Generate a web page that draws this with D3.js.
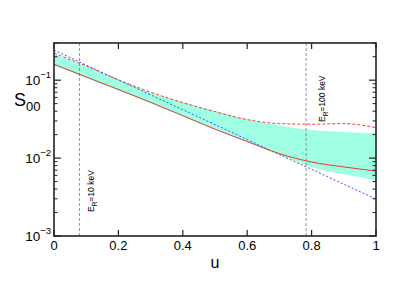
<!DOCTYPE html>
<html>
<head>
<meta charset="utf-8">
<script src="https://cdn.jsdelivr.net/npm/d3@7"></script>
<style>
  body { margin: 0; background: #fff; }
  svg { display: block; font-family: 'Liberation Sans', Arial, sans-serif; }
</style>
</head>
<body>
<div class="chart"></div>
<script>
// u grid shared by every curve
var uValues = [0, 0.1, 0.2, 0.3, 0.4, 0.5, 0.6, 0.7, 0.8, 0.9, 1.0];

// shaded band (upper / lower edge)
var bandUpper = [0.215, 0.151, 0.101, 0.069, 0.0525, 0.0402, 0.0312, 0.0262, 0.0229, 0.0216, 0.0209];
var bandLower = [0.156, 0.107, 0.0735, 0.0505, 0.0345, 0.0232, 0.0160, 0.0110, 0.0077, 0.0062, 0.0052];

// curves
var redSolid = [0.160, 0.110, 0.076, 0.052, 0.035, 0.0235, 0.0163, 0.0114, 0.0089, 0.0077, 0.0068];
var redDashed = [0.222, 0.152, 0.101, 0.0702, 0.0515, 0.0395, 0.0312, 0.0277, 0.0272, 0.0277, 0.0246];
var blueDashed = [0.243, 0.156, 0.1006, 0.0648, 0.0418, 0.0269, 0.0173, 0.0111, 0.00718, 0.00462, 0.00298];

// recoil energy markers
var markerU = [0.079, 0.783];
var markerLabels = ['10 keV', '100 keV'];

var xTicks = [0, 0.2, 0.4, 0.6, 0.8, 1];
var xTickLabels = ['0', '0.2', '0.4', '0.6', '0.8', '1'];
var yDecades = [-3, -2, -1];

var width = 415;
var height = 290;
var margin = { left: 54, right: 39, top: 43, bottom: 54 };

var svg = d3.select('.chart')
  .append('svg')
  .attr('width', width)
  .attr('height', height);

var x = d3.scaleLinear()
  .domain([0, 1])
  .range([margin.left, width - margin.right]);

var y = d3.scaleLog()
  .domain([1e-3, 0.3])
  .range([height - margin.bottom, margin.top]);

function pairs(values) {
  return uValues.map(function(u, i) { return [u, values[i]]; });
}

var line = d3.line()
  .x(function(d) { return x(d[0]); })
  .y(function(d) { return y(d[1]); })
  .curve(d3.curveMonotoneX);

var area = d3.area()
  .x(function(d) { return x(d.u); })
  .y0(function(d) { return y(d.lo); })
  .y1(function(d) { return y(d.hi); })
  .curve(d3.curveMonotoneX);

var bandData = uValues.map(function(u, i) {
  return { u: u, lo: bandLower[i], hi: bandUpper[i] };
});

svg.append('path')
  .datum(bandData)
  .attr('d', area)
  .style('fill', '#9fffe2');

// dashed vertical markers
svg.selectAll('.marker')
  .data(markerU)
  .enter()
  .append('line')
  .attr('class', 'marker')
  .attr('x1', function(d) { return x(d); })
  .attr('x2', function(d) { return x(d); })
  .attr('y1', y.range()[0])
  .attr('y2', y.range()[1])
  .style('stroke', '#777')
  .style('stroke-width', 0.8)
  .style('stroke-dasharray', '3,2');

var curves = [
  { values: redDashed, color: '#ff3838', dash: '3,2' },
  { values: blueDashed, color: '#3858ff', dash: '2,2' },
  { values: redSolid, color: '#e83a30', dash: null }
];

svg.selectAll('.curve')
  .data(curves)
  .enter()
  .append('path')
  .attr('class', 'curve')
  .attr('d', function(d) { return line(pairs(d.values)); })
  .style('fill', 'none')
  .style('stroke', function(d) { return d.color; })
  .style('stroke-width', 1)
  .style('stroke-dasharray', function(d) { return d.dash; });

// marker labels, rotated
var labelX = [94, 325];
var labelY = [212, 122];
markerLabels.forEach(function(lbl, i) {
  var t = svg.append('text')
    .attr('transform', 'translate(' + labelX[i] + ',' + labelY[i] + ') rotate(-90)')
    .attr('font-size', 8.5)
    .style('fill', '#000');
  t.append('tspan').text('E');
  t.append('tspan').attr('font-size', 6.5).attr('dy', 2.5).text('R');
  t.append('tspan').attr('dy', -2.5).text('=' + lbl);
});

// frame
var x0 = x.range()[0], x1 = x.range()[1];
var yb = y.range()[0], yt = y.range()[1];
svg.append('rect')
  .attr('x', x0)
  .attr('y', yt)
  .attr('width', x1 - x0)
  .attr('height', yb - yt)
  .style('fill', 'none')
  .style('stroke', '#222')
  .style('stroke-width', 1.6);

// x ticks (bottom and top, inward)
var ticks = svg.append('g').style('stroke', '#222').style('stroke-width', 1.2);
xTicks.forEach(function(t) {
  ticks.append('line').attr('x1', x(t)).attr('x2', x(t)).attr('y1', yb).attr('y2', yb - 6);
  ticks.append('line').attr('x1', x(t)).attr('x2', x(t)).attr('y1', yt).attr('y2', yt + 6);
});

// y ticks (left and right, inward)
var minorVals = [];
yDecades.forEach(function(p) {
  for (var m = 2; m <= 9; m++) {
    var v = m * Math.pow(10, p);
    if (v <= y.domain()[1] + 1e-9) minorVals.push(v);
  }
});
yDecades.forEach(function(p) {
  var v = Math.pow(10, p);
  ticks.append('line').attr('x1', x0).attr('x2', x0 + 7).attr('y1', y(v)).attr('y2', y(v));
  ticks.append('line').attr('x1', x1).attr('x2', x1 - 7).attr('y1', y(v)).attr('y2', y(v));
});
minorVals.forEach(function(v) {
  ticks.append('line').attr('x1', x0).attr('x2', x0 + 3.5).attr('y1', y(v)).attr('y2', y(v)).style('stroke-width', 1);
  ticks.append('line').attr('x1', x1).attr('x2', x1 - 3.5).attr('y1', y(v)).attr('y2', y(v)).style('stroke-width', 1);
});

// x tick labels
svg.selectAll('.xlabel')
  .data(xTicks)
  .enter()
  .append('text')
  .attr('class', 'xlabel')
  .attr('x', function(d) { return x(d); })
  .attr('y', yb + 14)
  .attr('text-anchor', 'middle')
  .attr('font-size', 13)
  .text(function(d, i) { return xTickLabels[i]; });

// y tick labels 10^p
yDecades.forEach(function(p) {
  var t = svg.append('text')
    .attr('x', x0 - 3)
    .attr('y', y(Math.pow(10, p)) + 5)
    .attr('text-anchor', 'end')
    .attr('font-size', 13.5);
  t.append('tspan').text('10');
  t.append('tspan').attr('font-size', 9.5).attr('dy', -7).text('\u2212' + Math.abs(p));
});

// axis titles
svg.append('text')
  .attr('x', x((0 + 1) / 2))
  .attr('y', 268)
  .attr('text-anchor', 'middle')
  .attr('font-size', 16)
  .text('u');

var yt2 = svg.append('text')
  .attr('x', 14)
  .attr('y', 106)
  .attr('font-size', 18);
yt2.append('tspan').text('S');
yt2.append('tspan').attr('font-size', 13).attr('dy', 5).text('00');
</script>
</body>
</html>
